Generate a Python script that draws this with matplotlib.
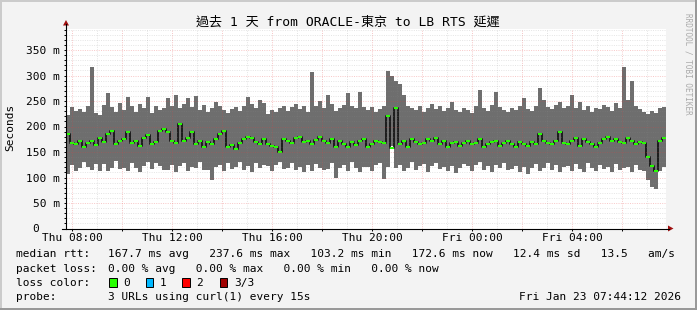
import numpy as np
import matplotlib.pyplot as plt
from matplotlib.patches import Polygon, Rectangle
from matplotlib.lines import Line2D

# time axis in hours from Thu 00:00, one sample every 0.16 h
t_start = 7.76
t_step = 0.16

# smoke top / bottom and median rtt, in ms
rtt_max = [222, 238, 230, 235, 228, 240, 317, 226, 222, 242, 266, 238, 228, 246, 232, 258, 240, 228, 245, 236, 258, 226, 240, 232, 236,
           255, 240, 262, 236, 245, 256, 238, 260, 232, 242, 228, 236, 248, 240, 232, 226, 234, 238, 230, 240, 258, 244, 236, 252, 246,
           225, 232, 228, 236, 240, 230, 238, 245, 234, 240, 228, 307, 240, 250, 236, 262, 244, 230, 236, 242, 266, 240, 236, 268, 238,
           232, 238, 228, 234, 240, 308, 300, 290, 284, 262, 240, 236, 232, 240, 228, 236, 244, 234, 240, 230, 236, 248, 232, 228, 236,
           232, 226, 240, 272, 236, 230, 242, 268, 238, 232, 228, 236, 232, 240, 256, 234, 230, 240, 276, 252, 238, 234, 242, 248, 236,
           240, 262, 236, 248, 232, 240, 228, 236, 234, 242, 238, 230, 246, 236, 317, 252, 290, 240, 234, 228, 224, 230, 226, 236, 238]
rtt_min = [106, 125, 112, 118, 130, 120, 114, 126, 112, 126, 113, 118, 132, 116, 118, 112, 128, 118, 110, 122, 130, 116, 128, 122, 114,
           115, 125, 110, 122, 128, 112, 120, 118, 130, 114, 115, 96, 120, 124, 112, 128, 116, 120, 130, 115, 122, 110, 128, 118, 125,
           122, 112, 124, 130, 116, 118, 128, 115, 120, 110, 124, 112, 126, 118, 114, 116, 128, 100, 118, 124, 112, 130, 118, 110, 120,
           120, 112, 124, 128, 98, 120, 162, 118, 124, 112, 118, 130, 114, 122, 126, 110, 122, 128, 116, 120, 112, 122, 108, 118, 126,
           122, 112, 124, 130, 114, 122, 110, 124, 118, 128, 114, 116, 122, 110, 120, 106, 118, 126, 112, 118, 128, 114, 124, 110, 120,
           122, 112, 126, 116, 110, 128, 118, 112, 124, 116, 120, 110, 126, 114, 118, 120, 110, 124, 114, 112, 95, 82, 78, 112, 120]
rtt_median = [185, 168, 166, 172, 160, 168, 172, 163, 178, 170, 185, 192, 165, 172, 176, 190, 168, 172, 162, 178, 183, 165, 170, 192, 195,
              190, 172, 168, 205, 172, 178, 190, 165, 172, 160, 170, 166, 175, 185, 192, 160, 164, 155, 168, 175, 180, 178, 170, 165, 175,
              165, 162, 160, 150, 175, 172, 168, 178, 180, 170, 172, 166, 174, 180, 172, 168, 176, 160, 172, 166, 160, 170, 164, 172, 176,
              160, 165, 172, 170, 168, 220, 158, 237, 165, 172, 160, 175, 170, 166, 168, 175, 172, 178, 165, 172, 160, 168, 170, 162, 168,
              172, 165, 168, 175, 160, 166, 170, 172, 162, 168, 172, 166, 160, 170, 165, 162, 170, 166, 185, 172, 168, 165, 172, 190, 168,
              165, 172, 178, 162, 175, 170, 165, 160, 168, 176, 180, 172, 175, 170, 168, 178, 172, 165, 170, 168, 140, 122, 112, 172, 178]

xtick_hours = [8, 12, 16, 20, 24, 28]
xtick_labels = ['Thu 08:00', 'Thu 12:00', 'Thu 16:00', 'Thu 20:00', 'Fri 00:00', 'Fri 04:00']
ytick_ms = [0, 50, 100, 150, 200, 250, 300, 350]
ytick_labels = ['0   ', '50 m', '100 m', '150 m', '200 m', '250 m', '300 m', '350 m']

title = '過去 1 天 from ORACLE-東京 to LB RTS 延遲'
rtt_line = '167.7 ms avg   237.6 ms max   103.2 ms min   172.6 ms now   12.4 ms sd   13.5   am/s'
loss_line = '0.00 % avg   0.00 % max   0.00 % min   0.00 % now'
probe_line = '3 URLs using curl(1) every 15s'
stamp = 'Fri Jan 23 07:44:12 2026'
loss_names = ['0', '1', '2', '3/3']
loss_colors = ['#26ff00', '#00b8ff', '#ff0000', '#a00000']

MONO = 'DejaVu Sans Mono'
plt.rcParams['font.family'] = MONO
plt.rcParams['font.size'] = 8

W, H = 697, 310


def fx(x):
    return x / W


def fy(y):
    return 1 - y / H


fig = plt.figure(figsize=(W / 100, H / 100), dpi=100, facecolor='#f3f3f3')
ax = fig.add_axes([fx(66), fy(228.5), 600 / W, 200 / H])
ax.set_facecolor('white')
ax.set_xlim(t_start, t_start + 24)
ax.set_ylim(0, 200 / 0.51)
for s in ax.spines.values():
    s.set_visible(False)

# smoke + median
t = t_start + t_step * np.arange(len(rtt_median))
t_edge = np.append(t, t[-1] + t_step)
hi = np.append(rtt_max, rtt_max[-1])
lo = np.append(rtt_min, rtt_min[-1])
med = np.append(rtt_median, rtt_median[-1])
ax.fill_between(t_edge, lo, hi, step='post', color='#6e6e6e', lw=0, zorder=1)
ax.step(t_edge, med, where='post', color='#161616', lw=1.3, zorder=2)
ax.hlines(rtt_median, t, t + t_step, colors='#26ff00', lw=1.5, zorder=2.2)

# rrdtool style dotted grid, drawn over the data
minor_c = (0.55, 0.55, 0.55, 0.22)
major_c = (0.9, 0.25, 0.25, 0.28)
for v in range(10, 391, 10):
    ax.axhline(v, color=major_c if v % 50 == 0 else minor_c, lw=0.72, ls=(0, (1, 1.3)), zorder=3)
for h in range(8, 32):
    ax.axvline(h, color=major_c if h % 2 == 0 else minor_c, lw=0.72, ls=(0, (1, 1.3)), zorder=3)

ax.set_yticks(ytick_ms, ytick_labels)
ax.set_yticks(range(0, 391, 10), minor=True)
ax.set_xticks(xtick_hours, xtick_labels)
ax.set_xticks(range(8, 32, 2), minor=True)
ax.tick_params(axis='y', which='both', direction='out', length=1.44, width=0.7, pad=2.9, labelsize=8)
ax.tick_params(axis='x', which='both', direction='out', length=1.44, width=0.7, pad=2.0, labelsize=8)

# axis lines with arrows
fig.add_artist(Line2D([fx(66), fx(66)], [fy(228.5), fy(24)], color='black', lw=0.8))
fig.add_artist(Line2D([fx(62), fx(669)], [fy(228.5), fy(228.5)], color='black', lw=0.8))
fig.add_artist(Polygon([(fx(63), fy(25.5)), (fx(69), fy(25.5)), (fx(66), fy(20))], closed=True,
                       color='#a01010', lw=0))
fig.add_artist(Polygon([(fx(668), fy(225.5)), (fx(668), fy(231.5)), (fx(673.5), fy(228.5))], closed=True,
                       color='#a01010', lw=0))

fig.text(fx(348), fy(22), title, ha='center', va='center', fontsize=9.4,
         family=[MONO, 'Noto Sans CJK TC'])
fig.text(fx(10.5), fy(127), 'Seconds', rotation=90, ha='center', va='center', fontsize=8)
fig.text(fx(688), fy(64), 'RRDTOOL / TOBI OETIKER', rotation=270, ha='center', va='center',
         fontsize=5.5, color='#aaaaaa')

# legend block
rows = [('median rtt:', rtt_line, 254.3), ('packet loss:', loss_line, 268.7),
        ('loss color:', None, 282.7), ('probe:', probe_line, 296.7)]
for label, text, y in rows:
    fig.text(fx(16.4), fy(y), label, ha='left', va='center', fontsize=8)
    if text:
        fig.text(fx(107.5), fy(y), text, ha='left', va='center', fontsize=8)

box_x = [109, 145.5, 182, 220]
for bx, name, col in zip(box_x, loss_names, loss_colors):
    fig.add_artist(Rectangle((fx(bx), fy(287)), 7.5 / W, 8.7 / H, facecolor=col,
                             edgecolor='black', lw=0.7))
    fig.text(fx(bx + 14), fy(282.7), name, ha='left', va='center', fontsize=8)

fig.text(fx(681), fy(296.7), stamp, ha='right', va='center', fontsize=8)

# 3d frame
fig.add_artist(Rectangle((0, 0), 2 / W, 1, color='#cbcbcb', lw=0))
fig.add_artist(Rectangle((0, 1 - 2 / H), 1, 2 / H, color='#cbcbcb', lw=0))
fig.add_artist(Rectangle((1 - 2 / W, 0), 2 / W, 1, color='#999999', lw=0))
fig.add_artist(Rectangle((0, 0), 1, 2 / H, color='#999999', lw=0))

fig.savefig('out.png', dpi=100, facecolor=fig.get_facecolor())
